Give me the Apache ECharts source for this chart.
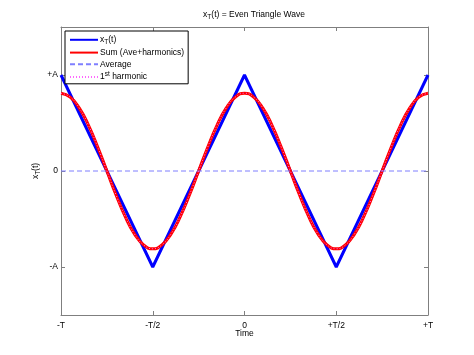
<!DOCTYPE html>
<html><head><meta charset="utf-8">
<script src="https://cdn.jsdelivr.net/npm/echarts@6/dist/echarts.min.js"></script>
<style>html,body{margin:0;padding:0;background:#fff}#c{width:474px;height:355px}</style>
</head><body><div id="c"></div>
<script>
// Tick labels
const xTickValues = [-1, -0.5, 0, 0.5, 1];
const xTickLabels = ['-T', '-T/2', '0', '+T/2', '+T'];
const yTickValues = [-1, 0, 1];
const yTickLabels = ['-A', '0', '+A'];

// Triangle wave corners (time in units of T, amplitude in units of A)
const triT = [-1, -0.5, 0, 0.5, 1];
const triX = [1, -1, 1, -1, 1];

// Sum (Ave + harmonics) / 1st harmonic
const sumT = [-1,-0.95,-0.9,-0.85,-0.8,-0.75,-0.7,-0.65,-0.6,-0.55,-0.5,-0.45,-0.4,-0.35,-0.3,-0.25,-0.2,-0.15,-0.1,-0.05,0,
  0.05,0.1,0.15,0.2,0.25,0.3,0.35,0.4,0.45,0.5,0.55,0.6,0.65,0.7,0.75,0.8,0.85,0.9,0.95,1];
const sumX = [0.81,0.77,0.655,0.476,0.25,0,-0.25,-0.476,-0.655,-0.77,-0.81,-0.77,-0.655,-0.476,-0.25,0,0.25,0.476,0.655,0.77,0.81,
  0.77,0.655,0.476,0.25,0,-0.25,-0.476,-0.655,-0.77,-0.81,-0.77,-0.655,-0.476,-0.25,0,0.25,0.476,0.655,0.77,0.81];

// Average
const aveT = [-1, 1];
const aveX = [0, 0];

const zip = (a, b) => a.map((v, i) => [v, b[i]]);
const font = '"Liberation Sans", Arial, sans-serif';
const fs = 8.5;
const axisCol = '#7f7f7f';

const chart = echarts.init(document.getElementById('c'), null, {renderer: 'canvas'});
const xLab = v => { const i = xTickValues.indexOf(v); return i >= 0 ? xTickLabels[i] : ''; };
const yLab = v => { const i = yTickValues.indexOf(v); return i >= 0 ? yTickLabels[i] : ''; };

const baseX = {
  type: 'value', min: -1, max: 1, interval: 0.5,
  axisLine: {onZero: false, lineStyle: {color: axisCol, width: 1}},
  axisTick: {inside: true, length: 4, lineStyle: {color: axisCol}},
  splitLine: {show: false}
};
const baseY = {
  type: 'value', min: -1.5, max: 1.5,
  axisLine: {onZero: false, lineStyle: {color: axisCol, width: 1}},
  axisTick: {inside: true, length: 4, customValues: yTickValues, lineStyle: {color: axisCol}},
  splitLine: {show: false}
};

const legendNames = {
  'xT(t)': '{a|x}{s|T}{a|(t)}',
  'Sum (Ave+harmonics)': '{a|Sum (Ave+harmonics)}',
  'Average': '{a|Average}',
  '1st harmonic': '{a|1}{p|st}{a| harmonic}'
};
const richA = {fontFamily: font, fontSize: fs, color: '#000', fontWeight: 'normal'};
const richS = {fontFamily: font, fontSize: 6.5, color: '#000', fontWeight: 'normal', padding: [5, 0, 0, 0]};
const richP = {fontFamily: font, fontSize: 6.5, color: '#000', fontWeight: 'normal', padding: [0, 0, 5, 0]};

chart.setOption({
  animation: false,
  backgroundColor: '#fff',
  title: {
    text: '{a|x}{s|T}{a|(t) = Even Triangle Wave}',
    left: 249, top: 4, textAlign: 'center',
    textStyle: {fontWeight: 'normal', rich: {a: richA, s: richS}}
  },
  grid: {left: 61, right: 46, top: 27, bottom: 40, containLabel: false},
  legend: {
    orient: 'vertical', left: 65, top: 31,
    backgroundColor: '#fff', borderColor: '#000', borderWidth: 1, borderRadius: 0,
    padding: [4, 4, 2, 4], itemGap: 2, itemWidth: 28, itemHeight: 12,
    itemStyle: {opacity: 0},
    formatter: n => legendNames[n],
    textStyle: {padding: [0, 0, 0, -3], rich: {a: richA, s: richS, p: richP}},
    data: ['xT(t)', 'Sum (Ave+harmonics)', 'Average', '1st harmonic']
  },
  xAxis: [
    Object.assign({}, baseX, {
      position: 'bottom',
      name: 'Time', nameLocation: 'middle', nameGap: 14, nameMoveOverlap: false,
      nameTextStyle: {fontFamily: font, fontSize: fs, color: '#000'},
      axisLabel: {formatter: xLab, fontFamily: font, fontSize: fs, color: '#000', margin: 6}
    }),
    Object.assign({}, baseX, {position: 'top', axisLabel: {show: false}})
  ],
  yAxis: [
    Object.assign({}, baseY, {
      position: 'left',
      name: '{a|x}{s|T}{a|(t)}', nameLocation: 'middle', nameGap: 19, nameRotate: 90, nameMoveOverlap: false,
      nameTextStyle: {rich: {a: richA, s: richS}},
      axisLabel: {customValues: yTickValues, formatter: yLab, fontFamily: font, fontSize: fs, color: '#000', margin: 3}
    }),
    Object.assign({}, baseY, {position: 'right', axisLabel: {show: false}})
  ],
  series: [
    {name: 'xT(t)', type: 'line', data: zip(triT, triX), showSymbol: false, symbol: 'none',
     lineStyle: {color: '#0000ff', width: 3}, itemStyle: {color: '#0000ff'}},
    {name: 'Sum (Ave+harmonics)', type: 'line', data: zip(sumT, sumX), smooth: true, showSymbol: false, symbol: 'none',
     lineStyle: {color: '#ff0000', width: 3}, itemStyle: {color: '#ff0000'}},
    {name: 'Average', type: 'line', data: zip(aveT, aveX), showSymbol: false, symbol: 'none',
     lineStyle: {color: '#7f7fff', width: 1, type: [5, 3]}, itemStyle: {color: '#7f7fff'}},
    {name: '1st harmonic', type: 'line', data: zip(sumT, sumX), smooth: true, showSymbol: false, symbol: 'none',
     lineStyle: {color: '#ff66ff', width: 1, type: [1, 2]}, itemStyle: {color: '#ff66ff'}}
  ]
});
</script></body></html>
